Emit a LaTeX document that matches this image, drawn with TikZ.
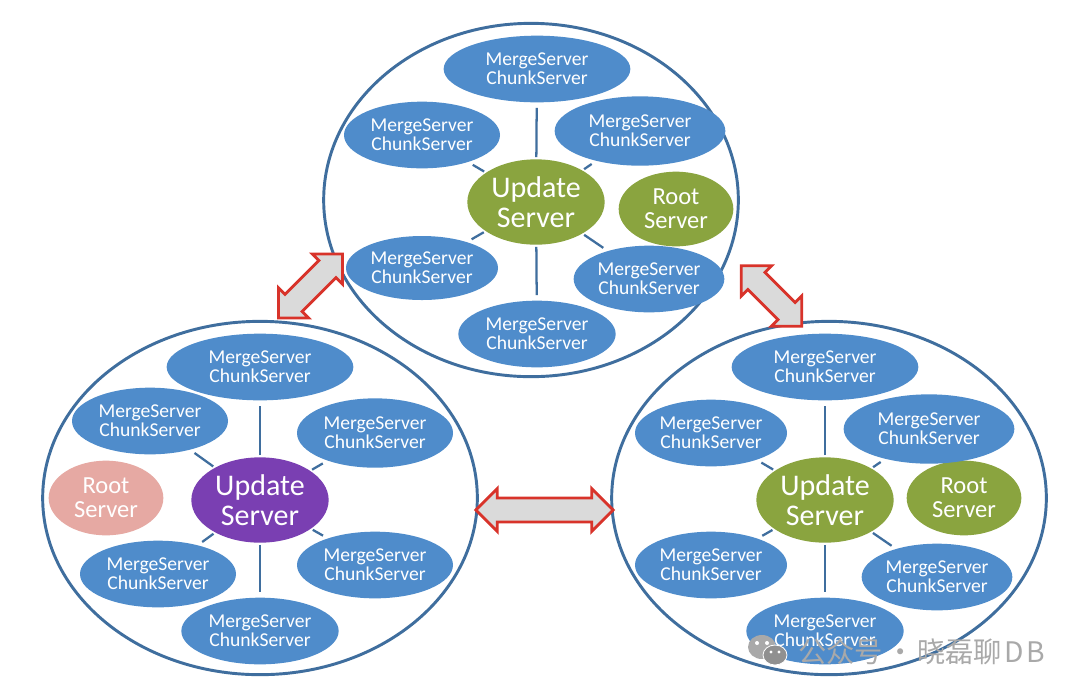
\documentclass[tikz,border=0pt]{standalone}
\usepackage{fontspec}
\setmainfont{Carlito}
\newfontfamily\cjkfont{Noto Sans CJK SC}
\usetikzlibrary{shapes.geometric, shapes.arrows, positioning}
\definecolor{ringblue}{HTML}{3F6E9E}
\definecolor{nodeblue}{HTML}{4F8CCB}
\definecolor{updgreen}{HTML}{8AA43F}
\definecolor{updpurple}{HTML}{7A3FB2}
\definecolor{rootpink}{HTML}{E6A9A3}
\definecolor{linkblue}{HTML}{3F6E9E}
\definecolor{arrowred}{HTML}{D8332A}
\definecolor{arrowgray}{HTML}{DADADA}
\definecolor{markgray}{HTML}{A9A9A9}
\begin{document}
\begin{tikzpicture}[x=0.75pt, y=-0.75pt]
    \tikzset{
        ring/.style = {ellipse, draw=ringblue, line width=2.2pt, fill=white, inner sep=0pt},
        srv/.style = {ellipse, fill=nodeblue, text=white, align=center, inner sep=0pt,
                      font=\fontsize{14.7}{14.5}\selectfont},
        upd/.style = {ellipse, text=white, align=center, inner sep=0pt,
                      minimum width=103pt, minimum height=64pt,
                      font=\fontsize{22.5}{22.5}\selectfont},
        root/.style = {ellipse, text=white, align=center, inner sep=0pt,
                       minimum width=86pt, minimum height=56pt,
                       font=\fontsize{18.4}{18}\selectfont},
        line/.style = {linkblue, line width=1.7pt, shorten >=4pt, shorten <=1.5pt},
        link/.style = {double arrow, draw=arrowred, fill=arrowgray, line width=2.1pt,
                       minimum width=30pt, double arrow head extend=7pt,
                       inner sep=0pt, text height=8pt, text depth=8pt, text width=0pt}
    }
    \useasboundingbox (0,0) rectangle (1080,694);

    % rings
    \node [ring, minimum width=311pt, minimum height=265pt] (ringT) at (531,200) {};
    \node [ring, minimum width=326pt, minimum height=265pt] (ringL) at (260,498) {};
    \node [ring, minimum width=326pt, minimum height=265pt] (ringR) at (829,498) {};

    % top group
    \node [upd, fill=updgreen] (updT) at (536,202) {Update\\Server};
    \node [root, fill=updgreen] (rootT) at (676,209) {Root\\Server};
    \node [srv, minimum width=140pt, minimum height=50pt] (t1) at (537,69) {MergeServer\\ChunkServer};
    \node [srv, minimum width=117pt, minimum height=50pt] (t2) at (422,135) {MergeServer\\ChunkServer};
    \node [srv, minimum width=128pt, minimum height=52pt] (t3) at (640,131) {MergeServer\\ChunkServer};
    \node [srv, minimum width=114pt, minimum height=48pt] (t4) at (422,268) {MergeServer\\ChunkServer};
    \node [srv, minimum width=113pt, minimum height=50pt] (t5) at (649,279) {MergeServer\\ChunkServer};
    \node [srv, minimum width=118pt, minimum height=50pt] (t6) at (537,334) {MergeServer\\ChunkServer};

    % left group
    \node [upd, fill=updpurple] (updL) at (260,500) {Update\\Server};
    \node [root, fill=rootpink] (rootL) at (106,498) {Root\\Server};
    \node [srv, minimum width=140pt, minimum height=50pt] (l1) at (260,367) {MergeServer\\ChunkServer};
    \node [srv, minimum width=117pt, minimum height=50pt] (l2) at (150,421) {MergeServer\\ChunkServer};
    \node [srv, minimum width=117pt, minimum height=52pt] (l3) at (375,433) {MergeServer\\ChunkServer};
    \node [srv, minimum width=117pt, minimum height=50pt] (l4) at (158,574) {MergeServer\\ChunkServer};
    \node [srv, minimum width=117pt, minimum height=50pt] (l5) at (375,565) {MergeServer\\ChunkServer};
    \node [srv, minimum width=118pt, minimum height=50pt] (l6) at (260,631) {MergeServer\\ChunkServer};

    % right group
    \node [upd, fill=updgreen] (updR) at (825,500) {Update\\Server};
    \node [root, fill=updgreen] (rootR) at (964,498) {Root\\Server};
    \node [srv, minimum width=140pt, minimum height=50pt] (r1) at (825,367) {MergeServer\\ChunkServer};
    \node [srv, minimum width=114pt, minimum height=50pt] (r2) at (711,433) {MergeServer\\ChunkServer};
    \node [srv, minimum width=128pt, minimum height=52pt] (r3) at (929,429) {MergeServer\\ChunkServer};
    \node [srv, minimum width=114pt, minimum height=50pt] (r4) at (711,565) {MergeServer\\ChunkServer};
    \node [srv, minimum width=113pt, minimum height=50pt] (r5) at (937,577) {MergeServer\\ChunkServer};
    \node [srv, minimum width=118pt, minimum height=50pt] (r6) at (825,631) {MergeServer\\ChunkServer};

    % spokes
    \draw [line] (updT) -- (t1);
    \draw [line] (updT) -- (t2);
    \draw [line] (updT) -- (t3);
    \draw [line] (updT) -- (t4);
    \draw [line] (updT) -- (t5);
    \draw [line] (updT) -- (t6);
    \draw [line] (updL) -- (l1);
    \draw [line] (updL) -- (l2);
    \draw [line] (updL) -- (l3);
    \draw [line] (updL) -- (l4);
    \draw [line] (updL) -- (l5);
    \draw [line] (updL) -- (l6);
    \draw [line] (updR) -- (r1);
    \draw [line] (updR) -- (r2);
    \draw [line] (updR) -- (r3);
    \draw [line] (updR) -- (r4);
    \draw [line] (updR) -- (r5);
    \draw [line] (updR) -- (r6);

    % block arrows between the rings
    \node [link, minimum height=68pt, rotate=45] (linkLT) at (310.5,286) {};
    \node [link, minimum height=64pt, rotate=-45] (linkTR) at (771.5,296) {};
    \node [link, minimum height=103pt] (linkLR) at (544.5,510) {};

    % watermark
    \node [anchor=west, text=markgray, font=\cjkfont\fontsize{21.2}{21}\selectfont, inner sep=0pt] (mark) at (798,652) {公众号\hspace{-2pt} · \hspace{-3pt}晓磊聊\hspace{2pt}D\hspace{2pt}B};
    \fill [markgray] (762,647) ellipse [x radius=14, y radius=12];
    \fill [white] (757,643) circle [radius=2] (767,643) circle [radius=2];
    \filldraw [fill=markgray!85!black, draw=white, line width=0.6pt] (775,655) ellipse [x radius=12, y radius=10];
    \fill [white] (771,652) circle [radius=1.6] (779,652) circle [radius=1.6];
\end{tikzpicture}
\end{document}
